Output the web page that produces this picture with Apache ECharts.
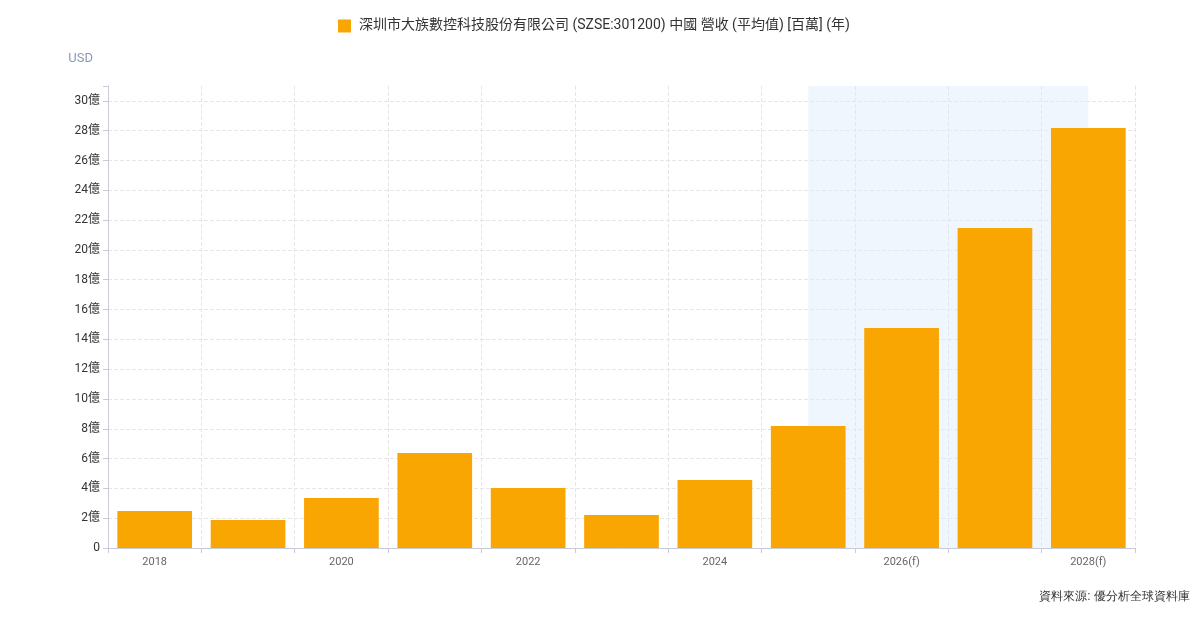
<!DOCTYPE html>
<html>
<head>
<meta charset="utf-8">
<script src="https://cdn.jsdelivr.net/npm/echarts@6/dist/echarts.min.js"></script>
<style>
  html, body { margin: 0; padding: 0; background: #fff; }
  #main { width: 1200px; height: 619px; }
</style>
</head>
<body>
<div id="main"></div>
<script>
// 年份 (f = 預測)
var years = ['2018', '2019', '2020', '2021', '2022', '2023', '2024', '2025', '2026(f)', '2027(f)', '2028(f)'];
// 營收 (億 USD)
var revenue = [2.48, 1.88, 3.36, 6.38, 4.03, 2.21, 4.56, 8.19, 14.77, 21.48, 28.19];
var seriesName = '深圳市大族數控科技股份有限公司 (SZSE:301200) 中國 營收 (平均值) [百萬] (年)';
// 預測區間 (類別索引)
var forecastFrom = 7;
var forecastTo = 10;

var myChart = echarts.init(document.getElementById('main'));

var option = {
  textStyle: { fontFamily: 'Roboto, "Noto Sans CJK TC", sans-serif' },
  legend: {
    top: 14,
    left: 333,
    icon: 'rect',
    itemWidth: 13,
    itemHeight: 13,
    itemGap: 10,
    textStyle: { fontSize: 14, color: '#333', padding: [0, 0, 0, 3] },
    data: [seriesName]
  },
  grid: { left: 108, right: 65, top: 86, bottom: 71 },
  xAxis: [{
    type: 'category',
    data: years,
    axisLine: { lineStyle: { color: '#c8ccd8' } },
    axisTick: { show: true, interval: 0, lineStyle: { color: '#c8ccd8' } },
    axisLabel: { interval: 1, color: '#666', fontSize: 11, margin: 9 },
    splitLine: { show: true, interval: 0, lineStyle: { color: '#e6e6e6', type: 'dashed' } }
  }, {
    // 隱藏的數值軸，用來讓預測區間從類別中心開始
    type: 'value',
    show: false,
    min: -0.5,
    max: years.length - 0.5
  }],
  yAxis: {
    type: 'value',
    name: 'USD',
    nameLocation: 'end',
    nameGap: 21,
    nameTextStyle: { color: '#8a9ab5', fontSize: 13, align: 'right', padding: [0, 15, 0, 0] },
    min: 0,
    max: 31,
    interval: 2,
    axisLine: { show: true, onZero: false, lineStyle: { color: '#c8ccd8' } },
    axisTick: { show: true, lineStyle: { color: '#c8ccd8' } },
    axisLabel: {
      color: '#333',
      fontSize: 12,
      formatter: function (v) {
        if (v > 30) return '';
        return v === 0 ? '0' : v + '億';
      }
    },
    splitLine: { show: true, showMaxLine: false, lineStyle: { color: '#e6e6e6', type: 'dashed' } }
  },
  series: [{
    name: seriesName,
    type: 'bar',
    data: revenue,
    barCategoryGap: '20%',
    itemStyle: { color: '#f9a602' },
    z: 3
  }, {
    name: 'forecast',
    type: 'line',
    xAxisIndex: 1,
    data: [],
    silent: true,
    markArea: {
      silent: true,
      itemStyle: { color: 'rgba(220,234,250,0.45)' },
      data: [[{ xAxis: forecastFrom }, { xAxis: forecastTo }]]
    },
    z: 1
  }],
  graphic: [{
    type: 'text',
    right: 10,
    top: 591,
    style: { text: '資料來源: 優分析全球資料庫', fill: '#333', fontSize: 12 }
  }]
};

myChart.setOption(option);
</script>
</body>
</html>
